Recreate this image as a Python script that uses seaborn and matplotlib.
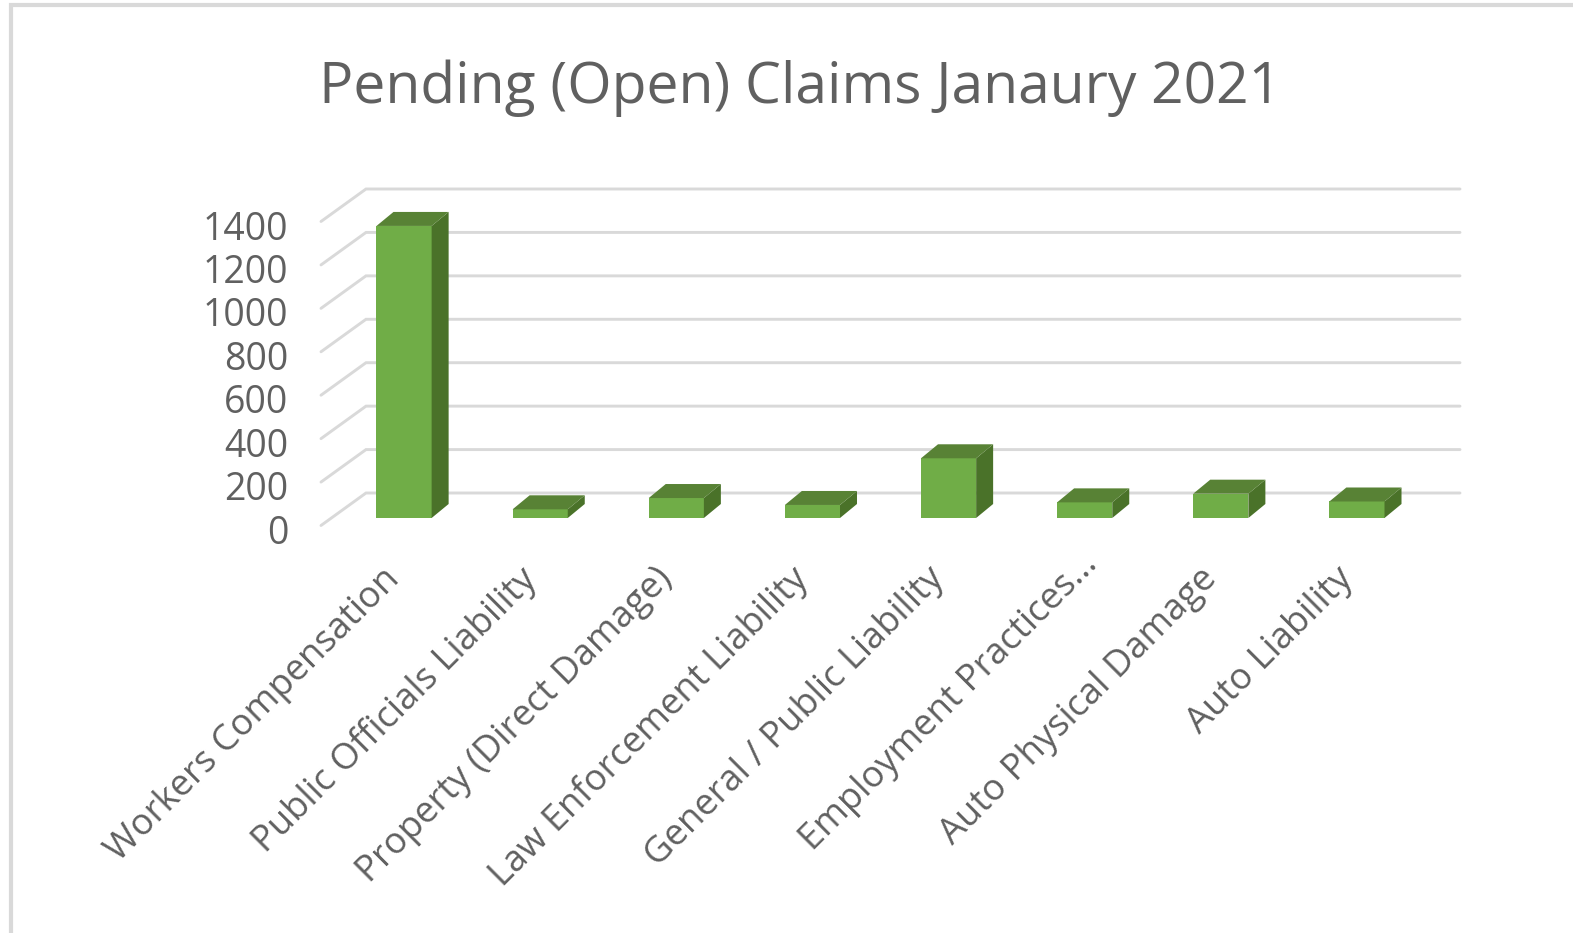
import matplotlib
matplotlib.use("Agg")
import matplotlib.pyplot as plt
from matplotlib.patches import Polygon, Rectangle
from matplotlib.transforms import ScaledTranslation
import pandas as pd
import seaborn as sns

# values
categories = ["Workers Compensation", "Public Officials Liability", "Property (Direct Damage)",
              "Law Enforcement Liability", "General / Public Liability", "Employment Practices...",
              "Auto Physical Damage", "Auto Liability"]
claims = [1345, 40, 92, 60, 275, 72, 112, 76]
y_ticks = [0, 200, 400, 600, 800, 1000, 1200, 1400]

W, H, DPI = 1573, 933, 100
TEXT = "#606060"
GRID = "#d9d9d9"
FRONT = "#70ad47"
SIDE = "#4a7229"
TOP = "#588235"

sns.set_theme(style="white")
plt.rcParams["font.family"] = ["Open Sans", "DejaVu Sans"]

fig = plt.figure(figsize=(W / DPI, H / DPI), dpi=DPI, facecolor="white")

# axes box in pixels: bars stand on base_y, one category is step_x wide
left, right = 336, 1425
base_y, top_y = 518, 214
ax = fig.add_axes([left / W, 1 - base_y / H, (right - left) / W, (base_y - top_y) / H])
ax.patch.set_alpha(0)

df = pd.DataFrame({"category": categories, "claims": claims})
sns.barplot(data=df, x="category", y="claims", color=FRONT, saturation=1, width=0.405,
            linewidth=0, ax=ax)
ax.set_xlim(-0.5, 7.5)
ax.set_ylim(0, 1400)

step_x = (right - left) / 8
unit_y = (base_y - top_y) / 1400


def dx(px):
    return px / step_x


def dy(px):
    return px / unit_y


# walls: diagonal from the front edge to the back, then across the back
wall_front = -0.5 + dx(321 - left)
wall_back = -0.5 + dx(366 - left)
wall_end = -0.5 + dx(1460 - left)
for t in y_ticks:
    ax.plot([wall_front, wall_back, wall_end], [t + dy(-7.5), t + dy(25), t + dy(25)],
            color=GRID, lw=2.1, zorder=0.5, clip_on=False, solid_joinstyle="miter")

# the 3d part of each bar
depth_x, depth_y = dx(17), dy(14)
for bar in ax.patches[:len(claims)]:
    x0 = bar.get_x()
    x1 = x0 + bar.get_width()
    h = bar.get_height()
    ax.add_patch(Polygon([(x1, 0), (x1 + depth_x, depth_y), (x1 + depth_x, h + depth_y), (x1, h)],
                         facecolor=SIDE, edgecolor="none", zorder=3, clip_on=False))
    ax.add_patch(Polygon([(x0, h), (x0 + depth_x, h + depth_y), (x1 + depth_x, h + depth_y), (x1, h)],
                         facecolor=TOP, edgecolor="none", zorder=3, clip_on=False))

sns.despine(ax=ax, left=True, bottom=True)
ax.set_xlabel("")
ax.set_ylabel("")
ax.set_yticks(y_ticks)
ax.tick_params(axis="y", length=0, pad=34.5, labelsize=27, labelcolor=TEXT)
ax.tick_params(axis="x", length=0, pad=31, labelsize=26.2, labelcolor=TEXT)
ax.set_xticks(range(len(categories)))
ax.set_xticklabels(categories, rotation=45, ha="right", rotation_mode="anchor")

# value labels sit level with the front edge of the floor
shift = ScaledTranslation(0, -11 / DPI, fig.dpi_scale_trans)
for label in ax.get_yticklabels():
    label.set_transform(label.get_transform() + shift)
for label in ax.get_xticklabels():
    # the cut-off label runs a bit further up its slant than the others
    if label.get_text().endswith("..."):
        shift_x = ScaledTranslation(-5 / DPI, 15 / DPI, fig.dpi_scale_trans)
    else:
        shift_x = ScaledTranslation(-22 / DPI, 0, fig.dpi_scale_trans)
    label.set_transform(label.get_transform() + shift_x)

fig.text(800 / W, 1 - 88 / H, "Pending (Open) Claims Janaury 2021", ha="center", va="center",
         fontsize=41, color=TEXT)

# screenshot frame, runs off the right and bottom edges
fig.add_artist(Rectangle((11 / W, -0.05), 1.1, 1.05 - 5 / H, transform=fig.transFigure,
                         facecolor="none", edgecolor=GRID, lw=3))

fig.savefig("out.png", dpi=DPI)
